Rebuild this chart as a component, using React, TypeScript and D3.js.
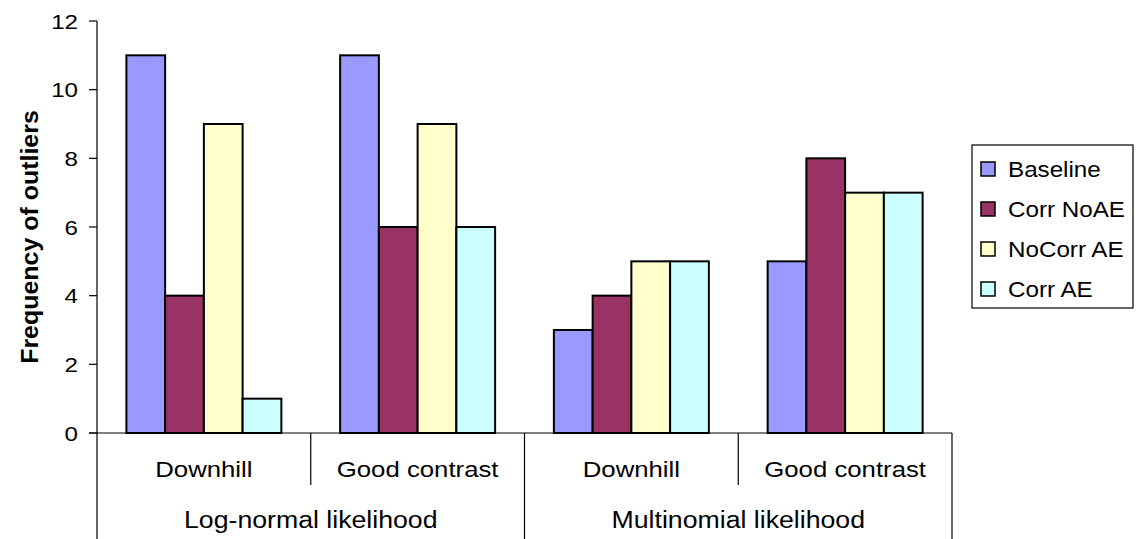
import React from "react";
import * as d3 from "d3";

const groups = ["Log-normal likelihood", "Multinomial likelihood"];
const categories = ["Downhill", "Good contrast", "Downhill", "Good contrast"];
const categoryGroup = [0, 0, 1, 1];
const seriesNames = ["Baseline", "Corr NoAE", "NoCorr AE", "Corr AE"];
const seriesColors = ["#9999FF", "#993366", "#FFFFCC", "#CCFFFF"];
const baseline = [11, 11, 3, 5];
const corrNoAE = [4, 6, 4, 8];
const noCorrAE = [9, 9, 5, 7];
const corrAE = [1, 6, 5, 7];
const yTicks = [0, 2, 4, 6, 8, 10, 12];

const series = [baseline, corrNoAE, noCorrAE, corrAE];

function SText(props: { x: number; y: number; sx?: number; size: number; anchor?: string; dy?: string; children: React.ReactNode }) {
  const { x, y, sx = 1.13, size, anchor = "start", dy, children } = props;
  return (
    <text transform={`translate(${x},${y}) scale(${sx},1)`} textAnchor={anchor as any} dy={dy} fontSize={size} fill="#000">
      {children}
    </text>
  );
}

export default function App() {
  const W = 1140, H = 539;
  const left = 97, right = 952, top = 21, bottom = 433;
  const font = "'Liberation Sans', Arial, sans-serif";

  const x0 = d3.scaleBand<number>().domain(d3.range(categories.length)).range([left, right]).padding(0);
  const bw = x0.bandwidth();
  const groupW = bw * 0.725;
  const x1 = d3.scaleBand<number>().domain(d3.range(series.length)).range([(bw - groupW) / 2, (bw + groupW) / 2]).padding(0);
  const y = d3.scaleLinear().domain([0, 12]).range([bottom, top]);

  const groupSpans = groups.map((g, gi) => {
    const idx = categoryGroup.map((c, i) => (c === gi ? i : -1)).filter((i) => i >= 0);
    const start = x0(idx[0])!;
    const end = x0(idx[idx.length - 1])! + bw;
    return { g, start, end };
  });

  return (
    <svg width={W} height={H} style={{ display: "block", position: "absolute", left: 0, top: 0, background: "#fff" }} fontFamily={font}>
      <rect x={0} y={0} width={W} height={H} fill="#fff" />
      {categories.map((c, ci) => (
        <g key={ci} transform={`translate(${x0(ci)},0)`}>
          {series.map((s, si) => (
            <rect
              key={si}
              x={x1(si)}
              y={y(s[ci])}
              width={x1.bandwidth()}
              height={y(0) - y(s[ci])}
              fill={seriesColors[si]}
              stroke="#000"
              strokeWidth={2}
            />
          ))}
        </g>
      ))}
      <line x1={left} x2={left} y1={top} y2={H} stroke="#000" strokeWidth={1.2} />
      {yTicks.map((t) => (
        <g key={t}>
          <line x1={left - 8} x2={left} y1={y(t)} y2={y(t)} stroke="#000" strokeWidth={1.2} />
          <SText x={78} y={y(t)} dy="0.36em" anchor="end" size={21} sx={1.15}>
            {t}
          </SText>
        </g>
      ))}
      <line x1={left - 8} x2={right} y1={bottom} y2={bottom} stroke="#000" strokeWidth={1.2} />
      {categories.map((c, ci) => {
        const xr = x0(ci)! + bw;
        const isGroupEnd = ci === categories.length - 1 || categoryGroup[ci + 1] !== categoryGroup[ci];
        return (
          <g key={ci}>
            <line x1={xr} x2={xr} y1={bottom} y2={isGroupEnd ? H : 485} stroke="#000" strokeWidth={1.2} />
            <SText x={x0(ci)! + bw / 2} y={477} anchor="middle" size={23} sx={1.12}>
              {c}
            </SText>
          </g>
        );
      })}
      {groupSpans.map((gs, gi) => (
        <SText key={gi} x={(gs.start + gs.end) / 2} y={528} anchor="middle" size={23} sx={1.16}>
          {gs.g}
        </SText>
      ))}
      <text
        transform={`translate(${38},${(top + bottom) / 2 + 10}) rotate(-90) scale(1.04,1)`}
        textAnchor="middle"
        fontSize={24}
        fontWeight="bold"
        fill="#000"
      >
        Frequency of outliers
      </text>
      <rect x={972} y={145} width={161} height={163} fill="#fff" stroke="#000" strokeWidth={1.2} />
      {seriesNames.map((n, i) => (
        <g key={n} transform={`translate(981,${169 + i * 40})`}>
          <rect x={0} y={-7} width={14} height={14} fill={seriesColors[i]} stroke="#000" strokeWidth={1.5} />
          <SText x={27} y={0} dy="0.36em" size={22} sx={1.1}>
            {n}
          </SText>
        </g>
      ))}
    </svg>
  );
}
